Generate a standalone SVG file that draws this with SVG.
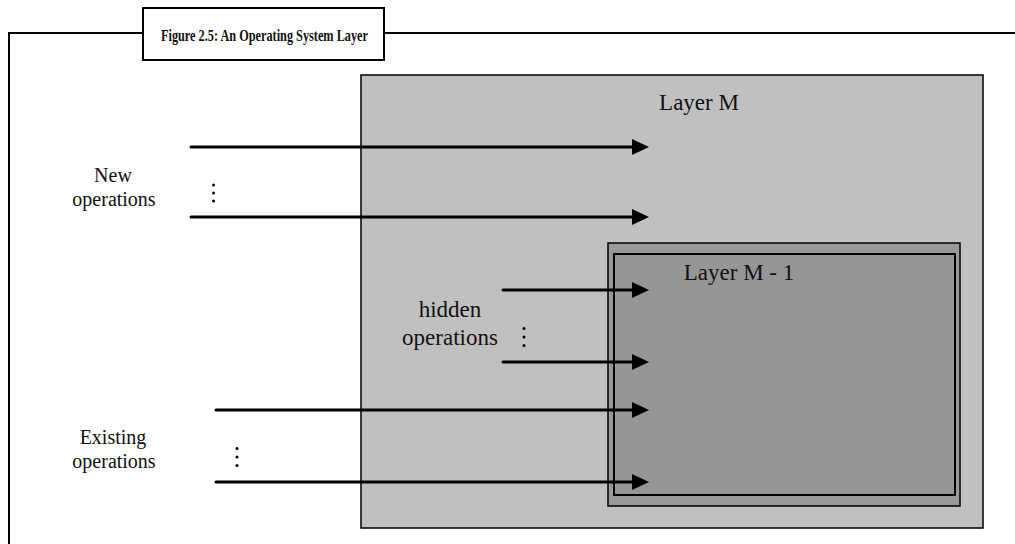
<svg xmlns="http://www.w3.org/2000/svg" width="1015" height="544" viewBox="0 0 1015 544">
  <style>
    .frame { fill: none; stroke: #000; stroke-width: 2; }
    .box { stroke: #000; }
    .lbl { font-family: "Liberation Serif", "Times New Roman", serif; font-size: 23px; fill: #111; text-anchor: middle; }
    .side { font-size: 20px; }
    .title { font-family: "Liberation Serif", "Times New Roman", serif; font-weight: bold; font-size: 17px; fill: #111; }
    .op { stroke: #000; stroke-width: 3; stroke-linecap: round; fill: none; marker-end: url(#head); }
    .dot { fill: #000; }
  </style>
  <defs>
    <marker id="head" markerUnits="userSpaceOnUse" markerWidth="18" markerHeight="16" refX="1" refY="8" orient="auto">
      <path d="M0,0 L17,8 L0,16 z" fill="#000"/>
    </marker>
  </defs>

  <rect width="1015" height="544" fill="#fff"/>

  <!-- outer figure frame with its caption box -->
  <g id="frame">
    <path class="frame" d="M9,544 V33 H143 M384,33 H1015"/>
  </g>
  <g id="title">
    <rect x="143" y="8" width="241" height="52" fill="#fff" stroke="#000" stroke-width="2"/>
    <text class="title" x="161" y="41" textLength="207" lengthAdjust="spacingAndGlyphs">Figure 2.5: An Operating System Layer</text>
  </g>

  <!-- upper layer -->
  <g id="layer-m">
    <rect class="box" x="361" y="75" width="622" height="453" fill="#c0c0c0" stroke-width="1.5"/>
    <text class="lbl" x="699" y="110">Layer M</text>
  </g>

  <!-- lower layer, double-bordered -->
  <g id="layer-m-1">
    <rect class="box" x="608" y="243" width="352" height="263" fill="#999" stroke-width="1.5"/>
    <rect class="box" x="614" y="254" width="341" height="241" fill="#969696" stroke-width="2"/>
    <text class="lbl" x="739" y="280">Layer M - 1</text>
  </g>

  <!-- operation group labels -->
  <g id="new-ops">
    <text class="lbl side" x="113" y="182">New</text>
    <text class="lbl side" x="114" y="206">operations</text>
    <circle class="dot" cx="213.5" cy="185" r="1.5"/>
    <circle class="dot" cx="213.5" cy="193" r="1.5"/>
    <circle class="dot" cx="213.5" cy="201" r="1.5"/>
  </g>
  <g id="hidden-ops">
    <text class="lbl" x="450" y="317">hidden</text>
    <text class="lbl" x="450" y="345">operations</text>
    <circle class="dot" cx="524" cy="328.5" r="1.5"/>
    <circle class="dot" cx="524" cy="337" r="1.5"/>
    <circle class="dot" cx="524" cy="345.5" r="1.5"/>
  </g>
  <g id="existing-ops">
    <text class="lbl side" x="113" y="444">Existing</text>
    <text class="lbl side" x="114" y="468">operations</text>
    <circle class="dot" cx="237" cy="448.5" r="1.5"/>
    <circle class="dot" cx="237" cy="457" r="1.5"/>
    <circle class="dot" cx="237" cy="465.5" r="1.5"/>
  </g>

  <!-- operation arrows -->
  <g id="connectors">
    <line class="op" x1="191" y1="147" x2="633" y2="147"/>
    <line class="op" x1="191" y1="217" x2="633" y2="217"/>
    <line class="op" x1="503" y1="290" x2="633" y2="290"/>
    <line class="op" x1="503" y1="362" x2="633" y2="362"/>
    <line class="op" x1="216" y1="410" x2="633" y2="410"/>
    <line class="op" x1="216" y1="482" x2="633" y2="482"/>
  </g>
</svg>
